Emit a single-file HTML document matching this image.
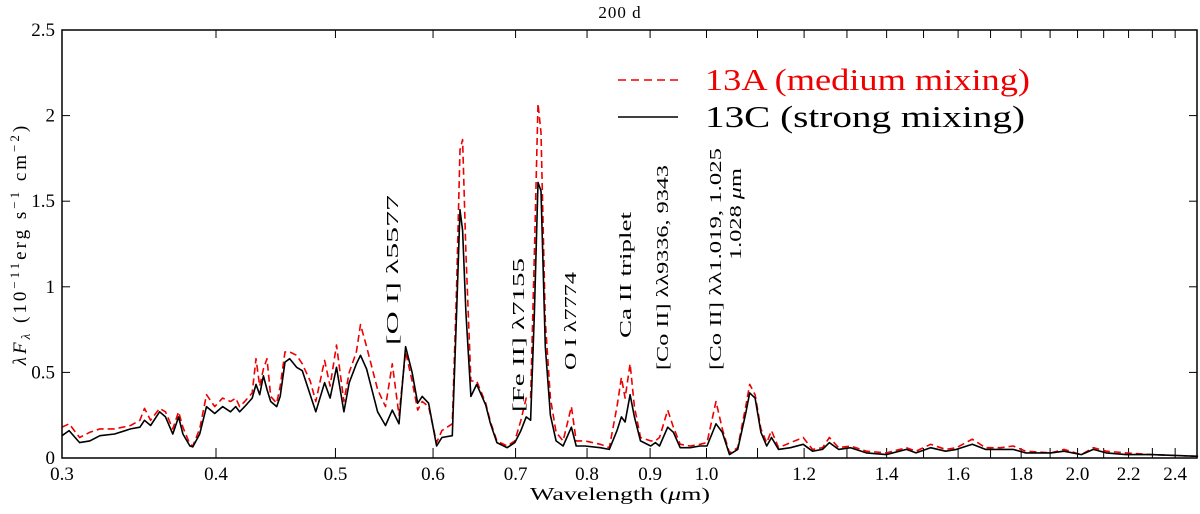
<!DOCTYPE html>
<html><head><meta charset="utf-8"><style>
body{margin:0;background:#fff;}
svg text{font-family:"Liberation Serif",serif;}
</style></head><body>
<svg id="chart" width="1200" height="509" xmlns="http://www.w3.org/2000/svg">
<text x="620" y="18" font-size="17" text-anchor="middle" letter-spacing="1">200 d</text>
<g id="plot"></g>
<g>
<line x1="618" y1="80" x2="678" y2="80" stroke="#e00" stroke-width="1.5" stroke-dasharray="8,5"/>
<text x="705" y="90" font-size="31" fill="#e00" textLength="325" lengthAdjust="spacingAndGlyphs">13A (medium mixing)</text>
<line x1="618" y1="117" x2="678" y2="117" stroke="#000" stroke-width="1.5"/>
<text x="705" y="127" font-size="31" fill="#000" textLength="320" lengthAdjust="spacingAndGlyphs">13C (strong mixing)</text>
</g>
<text transform="translate(26,244) rotate(-90)" font-size="19" text-anchor="middle" letter-spacing="3"><tspan font-style="italic">λF</tspan><tspan font-size="13" dy="4" font-style="italic">λ</tspan><tspan dy="-4"> (10</tspan><tspan font-size="13" dy="-7">−11</tspan><tspan dy="7">erg s</tspan><tspan font-size="13" dy="-7">−1</tspan><tspan dy="7"> cm</tspan><tspan font-size="13" dy="-7">−2</tspan><tspan dy="7">)</tspan></text>
<text x="530" y="500" font-size="18" textLength="180" lengthAdjust="spacingAndGlyphs">Wavelength (<tspan font-style="italic">μ</tspan>m)</text>
<g font-size="16.5">
<text transform="translate(398,345) rotate(-90)" textLength="150" lengthAdjust="spacingAndGlyphs">[O I] λ5577</text>
<text transform="translate(524,412) rotate(-90)" textLength="154" lengthAdjust="spacingAndGlyphs">[Fe II] λ7155</text>
<text transform="translate(576,370) rotate(-90)" textLength="98" lengthAdjust="spacingAndGlyphs">O I λ7774</text>
<text transform="translate(631,338) rotate(-90)" textLength="126" lengthAdjust="spacingAndGlyphs">Ca II triplet</text>
<text transform="translate(668,370) rotate(-90)" textLength="205" lengthAdjust="spacingAndGlyphs">[Co II] λλ9336, 9343</text>
<text transform="translate(721,370) rotate(-90)" textLength="222" lengthAdjust="spacingAndGlyphs">[Co II] λλ1.019, 1.025</text>
<text transform="translate(741,260) rotate(-90)" textLength="92" lengthAdjust="spacingAndGlyphs">1.028 <tspan font-style="italic">μ</tspan>m</text>
</g>
</svg>
<script>
const wavelengths=[0.300,0.304,0.310,0.316,0.322,0.331,0.341,0.347,0.350,0.354,0.360,0.364,0.369,0.373,0.376,0.381,0.383,0.388,0.393,0.399,0.405,0.411,0.415,0.418,0.422,0.428,0.431,0.434,0.437,0.440,0.443,0.448,0.451,0.455,0.459,0.465,0.470,0.477,0.482,0.490,0.495,0.501,0.508,0.513,0.520,0.524,0.530,0.541,0.549,0.556,0.563,0.570,0.577,0.583,0.588,0.595,0.604,0.610,0.622,0.627,0.631,0.634,0.638,0.644,0.651,0.662,0.668,0.676,0.689,0.699,0.707,0.714,0.720,0.725,0.730,0.734,0.740,0.747,0.755,0.765,0.777,0.784,0.797,0.820,0.834,0.846,0.853,0.859,0.867,0.874,0.884,0.901,0.909,0.916,0.930,0.940,0.952,0.970,0.988,1.001,1.018,1.030,1.044,1.060,1.076,1.084,1.095,1.107,1.119,1.129,1.144,1.170,1.198,1.219,1.242,1.258,1.280,1.309,1.348,1.399,1.453,1.479,1.520,1.563,1.595,1.643,1.684,1.733,1.773,1.815,1.903,1.950,2.014,2.060,2.110,2.189,2.294,2.505];
const flux13C=[.13,.16,.09,.10,.13,.14,.17,.18,.22,.19,.27,.24,.14,.24,.14,.07,.065,.14,.30,.26,.30,.27,.30,.27,.30,.35,.43,.37,.48,.40,.33,.30,.36,.56,.58,.53,.51,.37,.27,.44,.35,.53,.27,.44,.55,.60,.52,.27,.19,.28,.20,.65,.50,.32,.36,.32,.07,.12,.13,.85,1.45,1.33,.85,.36,.43,.31,.20,.09,.06,.09,.16,.24,.22,.85,1.61,1.56,.65,.25,.10,.07,.18,.07,.07,.06,.05,.16,.24,.21,.37,.24,.10,.07,.09,.07,.18,.15,.06,.06,.07,.07,.20,.15,.02,.05,.26,.38,.35,.15,.07,.12,.05,.06,.08,.04,.05,.09,.05,.06,.03,.02,.05,.03,.06,.04,.05,.08,.05,.05,.05,.03,.03,.04,.02,.05,.03,.02,.02,.01];
const flux13A=[.18,.20,.12,.15,.17,.17,.19,.22,.29,.22,.29,.27,.17,.27,.18,.08,.07,.17,.37,.30,.35,.33,.35,.30,.33,.38,.58,.42,.52,.58,.36,.32,.42,.62,.62,.60,.55,.45,.33,.57,.42,.66,.33,.50,.62,.78,.65,.40,.30,.55,.25,.62,.45,.28,.33,.30,.09,.16,.20,1.0,1.80,1.86,1.2,.45,.45,.32,.21,.10,.07,.10,.22,.35,.35,1.2,2.07,1.90,.80,.35,.15,.10,.30,.10,.10,.08,.06,.30,.47,.35,.55,.30,.12,.10,.10,.12,.28,.18,.08,.07,.08,.09,.33,.17,.03,.06,.30,.43,.37,.17,.09,.16,.06,.09,.12,.05,.06,.12,.06,.07,.04,.03,.06,.04,.08,.05,.06,.11,.06,.06,.07,.04,.03,.05,.02,.06,.04,.03,.02,.01];
const xTicks=[0.3,0.4,0.5,0.6,0.7,0.8,0.9,1.0,1.1,1.2,1.3,1.4,1.5,1.6,1.7,1.8,1.9,2.0,2.1,2.2,2.3,2.4];
const xTickLabels=["0.3","0.4","0.5","0.6","0.7","0.8","0.9","1.0","","1.2","","1.4","","1.6","","1.8","","2.0","","2.2","","2.4"];
const yTicks=[0,0.5,1,1.5,2,2.5];
const yTickLabels=["0","0.5","1","1.5","2","2.5"];

const L=62,R=1197,T=30,B=458,XMIN=0.3,XMAX=2.5,YMAX=2.5;
const sx=v=>L+(R-L)*Math.log(v/XMIN)/Math.log(XMAX/XMIN);
const sy=v=>B-(B-T)*v/YMAX;
const NS="http://www.w3.org/2000/svg";
const g=document.getElementById('plot');
function mk(tag,attrs){const e=document.createElementNS(NS,tag);for(const k in attrs)e.setAttribute(k,attrs[k]);g.appendChild(e);return e;}

xTicks.forEach((t,i)=>{
  const x=sx(t);
  const a=mk('line',{x1:x,y1:B,x2:x,y2:B-10,stroke:'#000','stroke-width':1});
  
  
  const b=mk('line',{x1:x,y1:T,x2:x,y2:T+8,stroke:'#000','stroke-width':1});
  
  
  if(xTickLabels[i]){
    const tx=mk('text',{x:x,y:B+22,'font-size':19,'text-anchor':'middle'});
    tx.textContent=xTickLabels[i];
    
    
  }
});
yTicks.forEach((t,i)=>{
  const y=sy(t);
  const a=mk('line',{x1:L,y1:y,x2:L+8,y2:y,stroke:'#000','stroke-width':1});
  
  
  const b=mk('line',{x1:R,y1:y,x2:R-8,y2:y,stroke:'#000','stroke-width':1});
  
  
  const tx=mk('text',{x:L-7,y:y+6,'font-size':19,'text-anchor':'end'});
  tx.textContent=yTickLabels[i];
  
  
});
function pts(arr){return wavelengths.map((w,i)=>sx(w).toFixed(1)+','+sy(arr[i]).toFixed(1)).join(' ');}
const red=mk('polyline',{points:pts(flux13A),fill:'none',stroke:'#e00','stroke-width':1.6,'stroke-dasharray':'7,4','stroke-linejoin':'round'});


const blk=mk('polyline',{points:pts(flux13C),fill:'none',stroke:'#000','stroke-width':1.6,'stroke-linejoin':'round'});


const fr=mk('rect',{x:L,y:T,width:R-L,height:B-T,fill:'none',stroke:'#000','stroke-width':1.5});


</script>
</body></html>
